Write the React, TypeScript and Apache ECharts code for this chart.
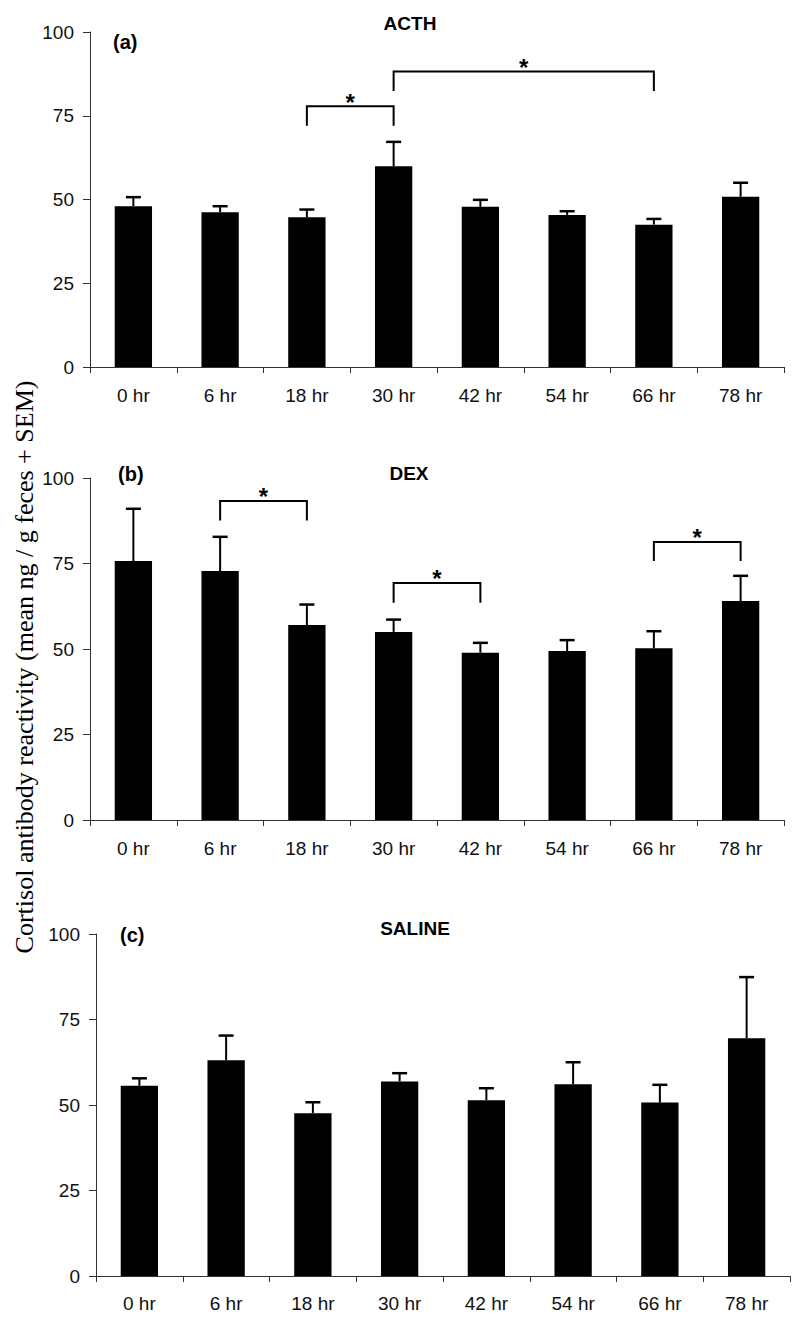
import React, { useEffect, useRef } from "react";
import * as echarts from "echarts";

const categories = ["0 hr", "6 hr", "18 hr", "30 hr", "42 hr", "54 hr", "66 hr", "78 hr"];
const yTicks = [0, 25, 50, 75, 100];

const acthMean = [48, 46.2, 44.7, 59.9, 47.8, 45.4, 42.5, 50.8];
const acthSem = [2.7, 1.8, 2.3, 7.3, 2.1, 1.1, 1.7, 4.2];
const dexMean = [75.7, 72.8, 57, 55, 48.9, 49.4, 50.2, 64];
const dexSem = [15.3, 10, 6, 3.6, 2.9, 3.2, 5, 7.4];
const salMean = [55.6, 63.1, 47.6, 56.9, 51.4, 56.1, 50.7, 69.5];
const salSem = [2.2, 7.2, 3.2, 2.4, 3.5, 6.4, 5.2, 17.9];

// [fromIndex, toIndex, topValue, legBottomValue]
const acthBrackets = [
  [2, 3, 77.8, 72],
  [3, 6, 88.2, 82.4],
];
const dexBrackets = [
  [1, 2, 93.3, 87.6],
  [3, 4, 69.3, 63.5],
  [6, 7, 81.3, 75.7],
];
const salBrackets: number[][] = [];

const panelTitles = ["ACTH", "DEX", "SALINE"];
const panelLetters = ["(a)", "(b)", "(c)"];
const yAxisTitle = "Cortisol antibody reactivity (mean ng / g feces + SEM)";

const SANS = '"Liberation Sans", Arial, sans-serif';
const SERIF = '"Liberation Serif", "Times New Roman", serif';

export default function App() {
  const ref = useRef<HTMLDivElement>(null);
  useEffect(() => {
    if (!ref.current) return;
    const chart = echarts.init(ref.current, null, { renderer: "svg" });

    const grids = [
      { left: 90, top: 32, width: 694, height: 335 },
      { left: 90, top: 478, width: 694, height: 342 },
      { left: 96, top: 934, width: 694, height: 342 },
    ];
    const labelMargins = [19, 19, 18];
    const means = [acthMean, dexMean, salMean];
    const sems = [acthSem, dexSem, salSem];
    const brackets = [acthBrackets, dexBrackets, salBrackets];

    const xAxis = grids.map((_, i) => ({
      type: "category",
      gridIndex: i,
      data: categories,
      axisLine: { lineStyle: { color: "#333", width: 1 } },
      axisTick: { show: true, length: 6, interval: 0, lineStyle: { color: "#333" } },
      axisLabel: { color: "#111", fontSize: 19, fontFamily: SANS, margin: labelMargins[i], interval: 0 },
      splitLine: { show: false },
    }));
    const yAxis = grids.map((_, i) => ({
      type: "value",
      gridIndex: i,
      min: yTicks[0],
      max: yTicks[yTicks.length - 1],
      interval: 25,
      axisLine: { show: true, lineStyle: { color: "#333", width: 1 } },
      axisTick: { show: true, length: 7, lineStyle: { color: "#333" } },
      axisLabel: { color: "#111", fontSize: 19, fontFamily: SANS, margin: 16 },
      splitLine: { show: false },
    }));

    const series: any[] = [];
    grids.forEach((_, i) => {
      series.push({
        type: "bar",
        xAxisIndex: i,
        yAxisIndex: i,
        data: means[i],
        barWidth: "43%",
        itemStyle: { color: "#000" },
        z: 2,
      });
      series.push({
        type: "custom",
        xAxisIndex: i,
        yAxisIndex: i,
        data: means[i].map((m, k) => [k, m, sems[i][k]]),
        encode: { x: 0, y: 1 },
        z: 3,
        renderItem: (params: any, api: any) => {
          const x = api.value(0);
          const m = api.value(1);
          const e = api.value(2);
          const base = api.coord([x, m]);
          const top = api.coord([x, m + e]);
          return {
            type: "group",
            children: [
              { type: "line", shape: { x1: base[0], y1: base[1], x2: top[0], y2: top[1] }, style: { stroke: "#000", lineWidth: 2 } },
              { type: "line", shape: { x1: top[0] - 7.5, y1: top[1], x2: top[0] + 7.5, y2: top[1] }, style: { stroke: "#000", lineWidth: 2.5 } },
            ],
          };
        },
      });
      if (brackets[i].length) {
        series.push({
          type: "custom",
          xAxisIndex: i,
          yAxisIndex: i,
          data: brackets[i],
          encode: { x: [0, 1], y: [2, 3] },
          z: 4,
          renderItem: (params: any, api: any) => {
            const a = api.value(0);
            const b = api.value(1);
            const t = api.value(2);
            const l = api.value(3);
            const p1 = api.coord([a, l]);
            const p2 = api.coord([a, t]);
            const p3 = api.coord([b, t]);
            const p4 = api.coord([b, l]);
            return {
              type: "group",
              children: [
                {
                  type: "polyline",
                  shape: { points: [p1, p2, p3, p4] },
                  style: { stroke: "#000", lineWidth: 2, fill: "none" },
                },
                {
                  type: "text",
                  x: (p2[0] + p3[0]) / 2,
                  y: p2[1] - 4,
                  style: { text: "*", font: `bold 24px ${SANS}`, fill: "#000", align: "center", verticalAlign: "middle" },
                },
              ],
            };
          },
        });
      }
    });

    const titlePos = [
      [410, 23],
      [409, 473],
      [415, 928],
    ];
    const letterPos = [
      [113, 42],
      [118, 474],
      [120, 935],
    ];
    const graphic: any[] = [];
    panelTitles.forEach((t, i) => {
      graphic.push({
        type: "text",
        x: titlePos[i][0],
        y: titlePos[i][1],
        style: { text: t, font: `bold 19px ${SANS}`, fill: "#000", align: "center", verticalAlign: "middle" },
      });
      graphic.push({
        type: "text",
        x: letterPos[i][0],
        y: letterPos[i][1],
        style: { text: panelLetters[i], font: `bold 20px ${SANS}`, fill: "#000", align: "left", verticalAlign: "middle" },
      });
    });
    graphic.push({
      type: "text",
      x: 24,
      y: 667,
      rotation: Math.PI / 2,
      style: { text: yAxisTitle, font: `26px ${SERIF}`, fill: "#000", align: "center", verticalAlign: "middle" },
    });

    chart.setOption({
      animation: false,
      backgroundColor: "#fff",
      grid: grids.map((g) => ({ ...g, containLabel: false })),
      xAxis,
      yAxis,
      series,
      graphic,
    });
    return () => chart.dispose();
  }, []);

  return <div ref={ref} style={{ position: "absolute", left: 0, top: 0, width: 800, height: 1325 }} />;
}
